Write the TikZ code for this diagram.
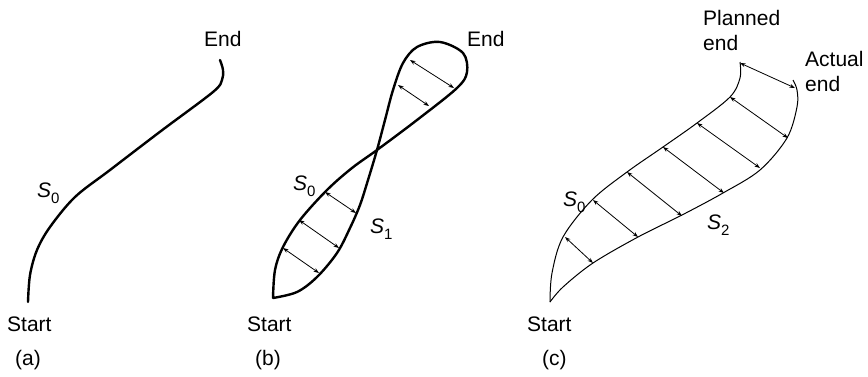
\documentclass[tikz,border=0pt]{standalone}
\usepackage{fontspec}
\setmainfont{Liberation Sans}
\usetikzlibrary{arrows.meta}
\newcommand\Ssub[1]{\textit{S}\raisebox{-0.32em}{\fontsize{15}{15}\selectfont #1}}
\begin{document}
\begin{tikzpicture}[x=1pt,y=-1pt,
  lbl/.style={anchor=base west, inner sep=0pt, font=\fontsize{21}{25}\selectfont},
  thickcurve/.style={line width=2.4pt, line join=round, line cap=round},
  thincurve/.style={line width=1pt, line join=round},
  gap/.style={{Stealth[length=5.5pt,width=4pt]}-{Stealth[length=5.5pt,width=4pt]}, line width=0.8pt}]
\useasboundingbox (0,0) rectangle (868,376);

% ---------- (a) ----------
\draw[thickcurve] plot[smooth, tension=0.55] coordinates {(28,302) (30,275) (37,250) (50,227) (75,197) (110,170) (161,131) (213,92) (222,80) (223,70) (220,60)};
\node[lbl] (aend) at (204,46.5) {End};
\node[lbl] (astart) at (7,331.5) {Start};
\node[lbl] (as0) at (37,197) {\Ssub{0}};
\node[lbl] (acap) at (15,365) {(a)};

% ---------- (b) ----------
\draw[thickcurve] plot[smooth, tension=0.55] coordinates {(273,298) (275,270) (283,247) (300,220) (327,190) (352,168) (377,150) (417,120) (457,88) (467,72) (463,53) (440,42) (417,47) (403,63) (393,90) (385,120) (377,150) (368,180) (360,205) (350,228) (337,253) (317,277) (297,292) (273,298)};
\draw[gap] (410,60) -- (454,88);
\draw[gap] (398,85) -- (429,106);
\draw[gap] (325,192) -- (356,213);
\draw[gap] (299,220) -- (339,248);
\draw[gap] (283,248) -- (319,273);
\node[lbl] (bend) at (467,46.5) {End};
\node[lbl] (bstart) at (247,331.5) {Start};
\node[lbl] (bs0) at (293,190) {\Ssub{0}};
\node[lbl] (bs1) at (370,233) {\Ssub{1}};
\node[lbl] (bcap) at (255,365) {(b)};

% ---------- (c) ----------
\draw[thincurve] plot[smooth, tension=0.55] coordinates {(550,302) (552,273) (563,237) (592,200) (627,172) (663,147) (697,123) (730,97) (740,78) (740,62)};
\draw[thincurve] plot[smooth, tension=0.55] coordinates {(550,302) (563,287) (593,263) (638,237) (682,215) (723,193) (760,170) (787,138) (797,107) (797,90) (793,80)};
\draw[gap] (740,63) -- (795,88);
\draw[gap] (730,97) -- (788,138);
\draw[gap] (697,123) -- (760,168);
\draw[gap] (663,147) -- (724,193);
\draw[gap] (627,172) -- (682,216);
\draw[gap] (593,200) -- (638,237);
\draw[gap] (565,237) -- (593,263);
\node[lbl] (cplan1) at (703,25) {Planned};
\node[lbl] (cplan2) at (703,50) {end};
\node[lbl] (cact1) at (805,66.5) {Actual};
\node[lbl] (cact2) at (805,91.5) {end};
\node[lbl] (cs0) at (563,206) {\Ssub{0}};
\node[lbl] (cs2) at (707,229) {\Ssub{2}};
\node[lbl] (cstart) at (527,331.5) {Start};
\node[lbl] (ccap) at (542,365) {(c)};
\end{tikzpicture}
\end{document}
